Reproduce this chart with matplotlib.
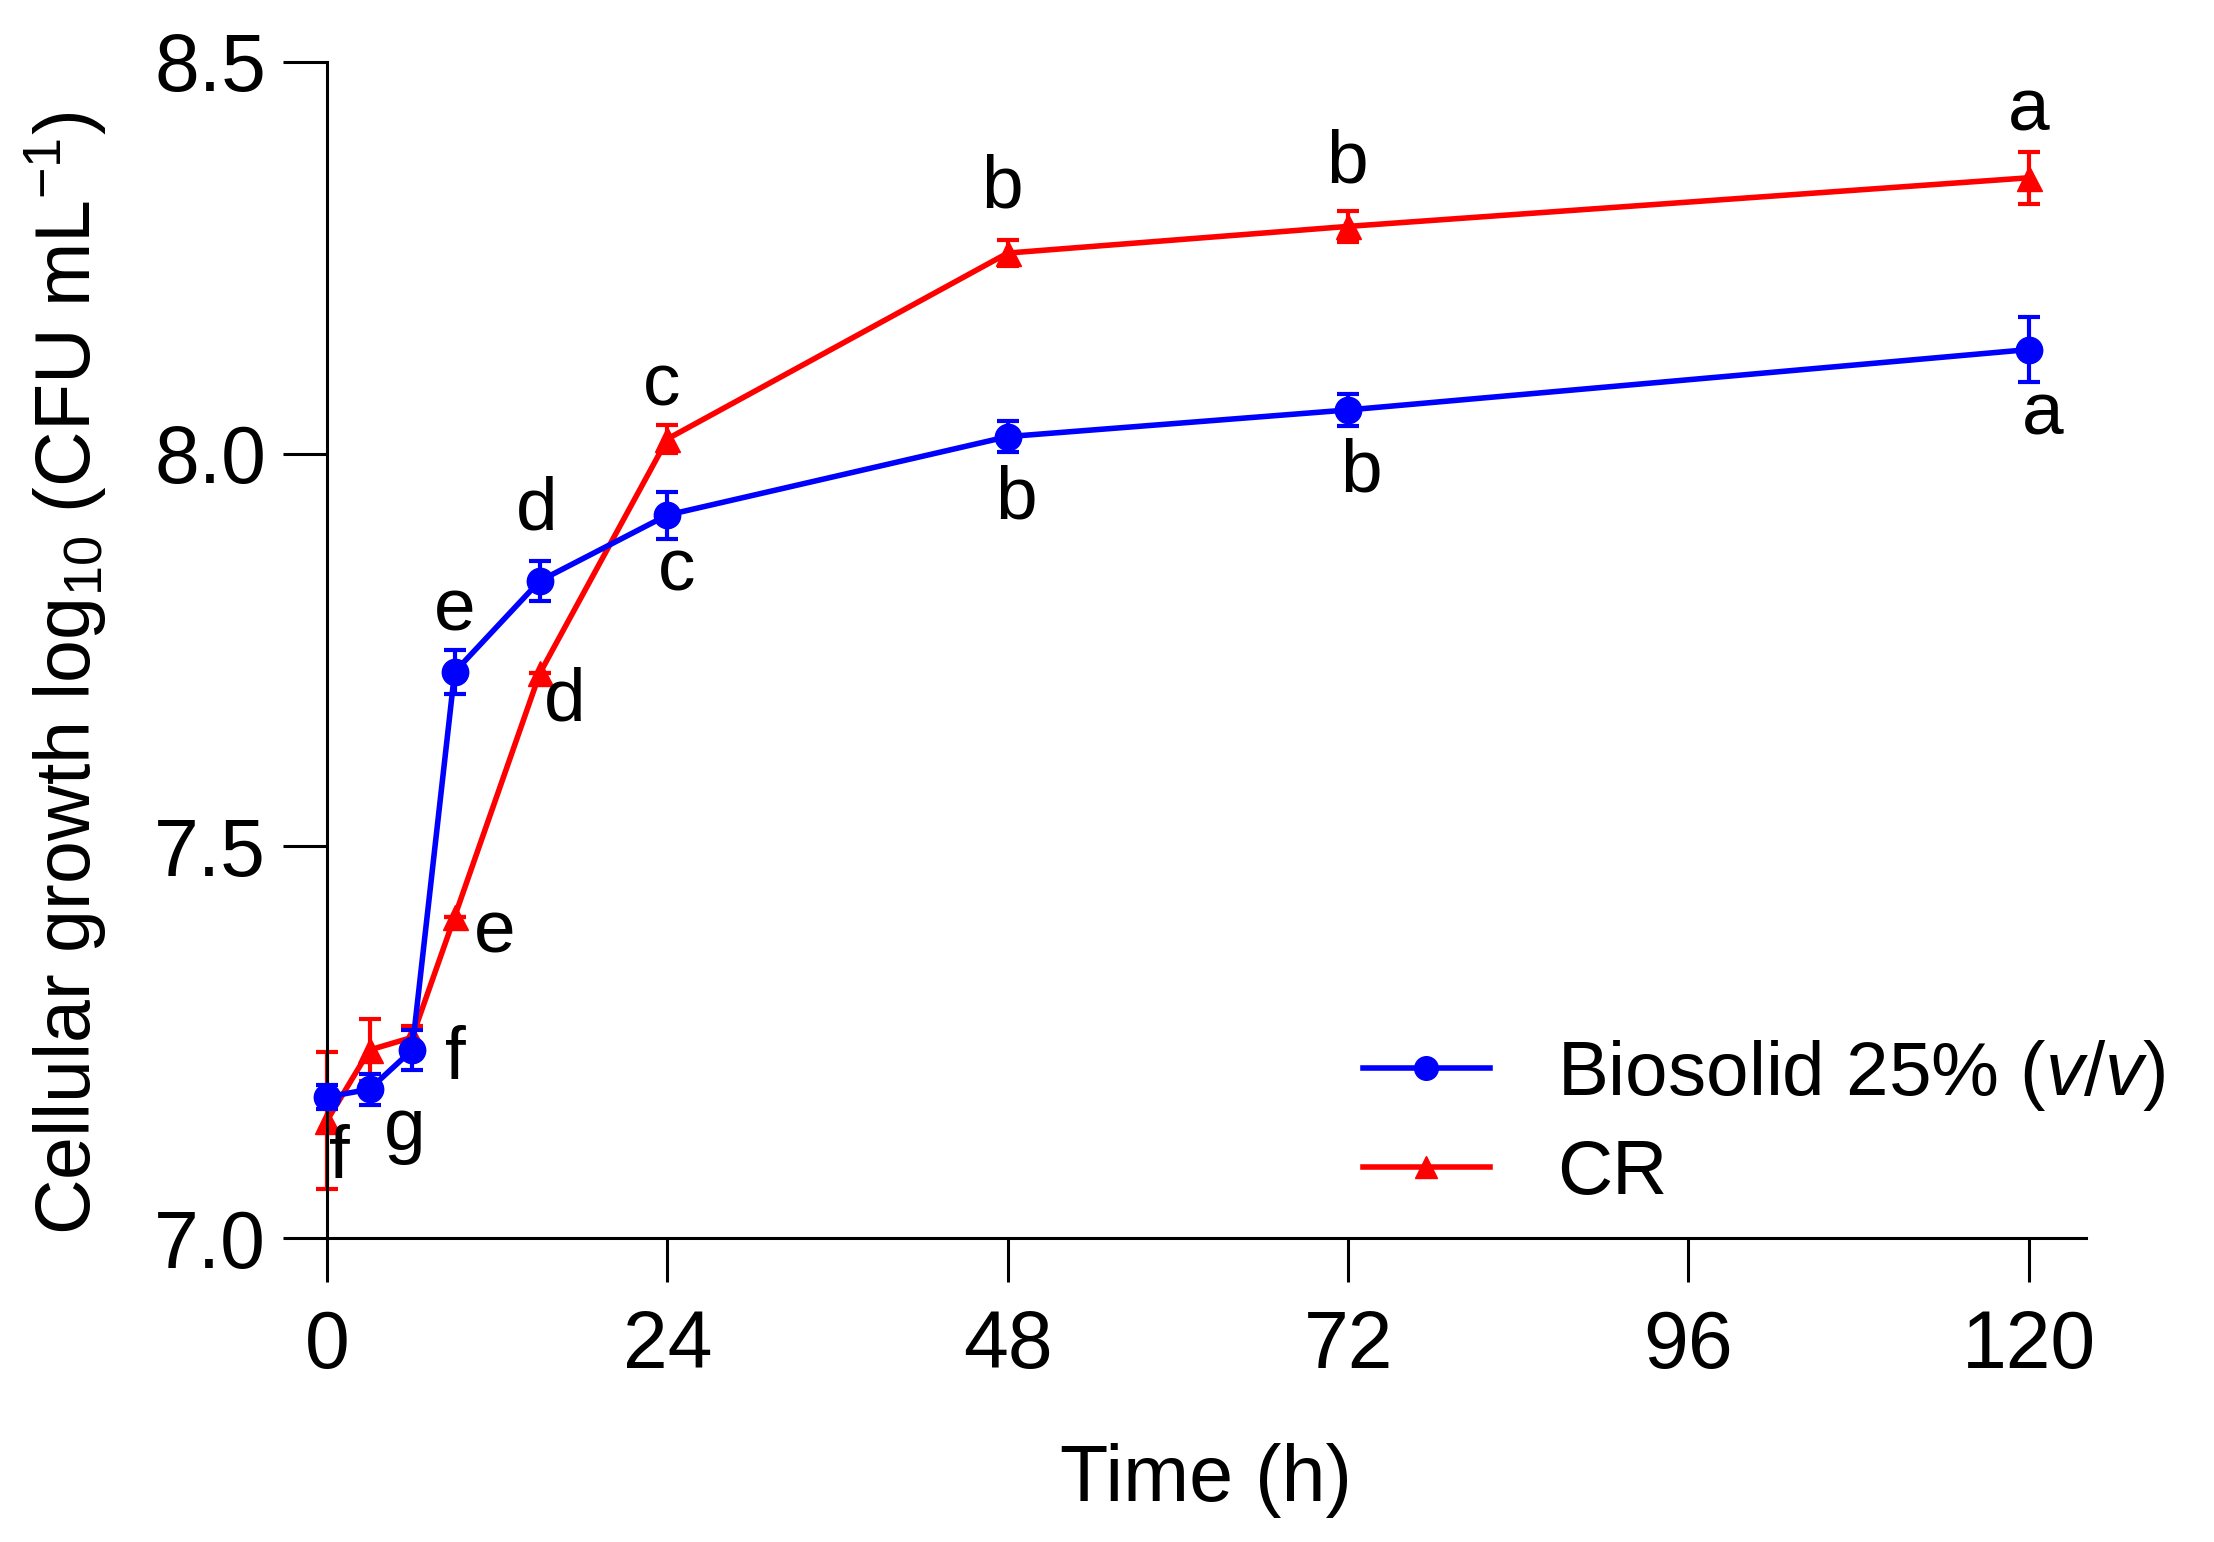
import matplotlib.pyplot as plt
from matplotlib.lines import Line2D

plt.rcParams['font.family'] = ['Liberation Sans', 'DejaVu Sans']
plt.rcParams['mathtext.fontset'] = 'custom'
plt.rcParams['mathtext.rm'] = 'Liberation Sans'
plt.rcParams['mathtext.it'] = 'Liberation Sans:italic'

# time points (h)
tempo = [0, 3, 6, 9, 15, 24, 48, 72, 120]

# Biosolid 25% (v/v)
bio = [7.18, 7.19, 7.24, 7.722, 7.838, 7.922, 8.022, 8.056, 8.133]
bio_err = [0.015, 0.02, 0.025, 0.028, 0.025, 0.03, 0.02, 0.02, 0.041]
bio_letras = ["", "g", "f", "e", "d", "c", "b", "b", "a"]
bio_offset = [(0, 0), (25, -30), (31, -7), (0, 44), (-2, 51), (7, -40), (6, -45), (9, -45), (10, -47)]

# CR
cr = [7.15, 7.24, 7.256, 7.41, 7.72, 8.019, 8.256, 8.29, 8.352]
cr_err = [0.087, 0.04, 0.015, 0.0, 0.0, 0.018, 0.017, 0.02, 0.033]
cr_letras = ["f", "", "", "e", "d", "c", "b", "b", "a"]
cr_offset = [(9, -27), (0, 0), (0, 0), (29, -12), (18, -20), (-4, 38), (-4, 47), (-1, 46), (0, 48)]

azul = "#0000ff"
vermelho = "#ff0000"

fig = plt.figure(figsize=(22.14, 15.42), dpi=100)
ax = fig.add_axes([0.1477, 0.197, 0.7943, 0.763])

ax.errorbar(tempo, bio, yerr=bio_err, color=azul, marker="o", markersize=19,
            linewidth=4, elinewidth=3, capsize=8, capthick=3, clip_on=False, zorder=3)
ax.errorbar(tempo, cr, yerr=cr_err, color=vermelho, marker="^", markersize=18,
            linewidth=4, elinewidth=3, capsize=8, capthick=3, clip_on=False, zorder=2)

for x, y, s, off in zip(tempo, bio, bio_letras, bio_offset):
    if s:
        ax.annotate(s, (x, y), xytext=off, textcoords="offset points",
                    ha="center", va="center", fontsize=54)
for x, y, s, off in zip(tempo, cr, cr_letras, cr_offset):
    if s:
        ax.annotate(s, (x, y), xytext=off, textcoords="offset points",
                    ha="center", va="center", fontsize=54)

ax.set_xlim(0, 124)
ax.set_ylim(7.0, 8.5)
ax.set_xticks([0, 24, 48, 72, 96, 120])
ax.set_yticks([7.0, 7.5, 8.0, 8.5])
ax.set_yticklabels(["7.0", "7.5", "8.0", "8.5"])

ax.spines["top"].set_visible(False)
ax.spines["right"].set_visible(False)
ax.spines["left"].set_linewidth(2.2)
ax.spines["bottom"].set_linewidth(2.2)
ax.tick_params(axis="both", labelsize=58, width=2.2, length=32, pad=12)
ax.tick_params(axis="x", length=32, pad=19)

ax.set_xlabel("Time (h)", fontsize=57, labelpad=42)
ax.set_ylabel("Cellular growth log$_{10}$ (CFU mL$^{-1}$)", fontsize=55.5)
ax.yaxis.set_label_coords(-0.124, 0.48)

handles = [Line2D([], [], color=azul, marker="o", markersize=17, linewidth=4),
           Line2D([], [], color=vermelho, marker="^", markersize=16, linewidth=4)]
fig.legend(handles, ["Biosolid 25% ($v/v$)", "CR"], loc="center left",
           bbox_to_anchor=(0.6156, 0.271), frameon=False, fontsize=55,
           borderpad=0, borderaxespad=0, handlelength=1.66, handletextpad=0.88,
           labelspacing=0.34)

plt.savefig("out.png", dpi=100)
